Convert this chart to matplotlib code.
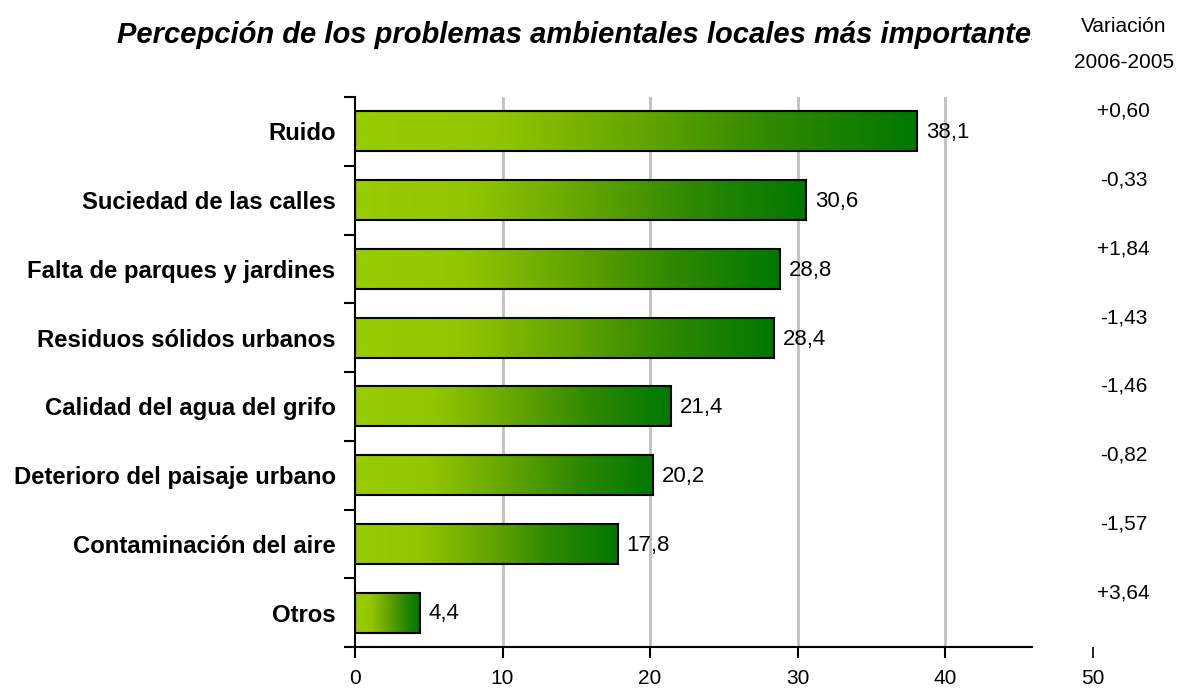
import numpy as np
import matplotlib
matplotlib.use('Agg')
import matplotlib.pyplot as plt
from matplotlib.colors import LinearSegmentedColormap
from matplotlib.transforms import Bbox

plt.rcParams['font.family'] = ['Liberation Sans', 'DejaVu Sans']

# data
categorias = ['Ruido', 'Suciedad de las calles', 'Falta de parques y jardines',
              'Residuos sólidos urbanos', 'Calidad del agua del grifo',
              'Deterioro del paisaje urbano', 'Contaminación del aire', 'Otros']
valores = [38.1, 30.6, 28.8, 28.4, 21.4, 20.2, 17.8, 4.4]
variacion = ['+0,60', '-0,33', '+1,84', '-1,43', '-1,46', '-0,82', '-1,57', '+3,64']
xticks = [0, 10, 20, 30, 40, 50]

W, H = 1178, 689
fig = plt.figure(figsize=(W / 100, H / 100), dpi=100)
ax = fig.add_axes([355 / W, 42 / H, 737.5 / W, 550 / H])

# gradient lime -> dark green, per bar
cmap = LinearSegmentedColormap.from_list('verde', ['#99cc00', '#92c600', '#66a600', '#2e8800', '#007800'])
grad = np.linspace(0, 1, 256).reshape(1, -1)

ypos = np.arange(len(categorias))
bh = 0.58
bars = ax.barh(ypos, valores, height=bh, facecolor='none', edgecolor='black',
               linewidth=1.5, zorder=3)
for b in bars:
    x0, y0 = b.get_x(), b.get_y()
    w, h = b.get_width(), b.get_height()
    im = ax.imshow(grad, cmap=cmap, aspect='auto', extent=[x0, x0 + w, y0 + h, y0],
                   zorder=2, interpolation='bilinear')
    im.set_clip_path(b)

for y, v in zip(ypos, valores):
    ax.text(v + 0.6, y + 0.02, ('%.1f' % v).replace('.', ','), va='center', ha='left',
            fontsize=16, zorder=4)

ax.set_xlim(0, 50)
ax.set_ylim(len(categorias) - 0.5, -0.5)

ax.set_xticks(xticks)
ax.set_xticklabels([str(t) for t in xticks], fontsize=15)
ax.tick_params(axis='x', direction='out', length=8, width=1.5, pad=8)
# the 50 tick is only a small detached mark in the original
ax.xaxis.get_major_ticks()[-1].tick1line.set_markeredgewidth(1.2)

ax.set_yticks(ypos)
ax.set_yticklabels(categorias, fontsize=17.2, fontweight='bold')
ax.set_yticks(np.arange(-0.5, len(categorias), 1), minor=True)
ax.tick_params(axis='y', which='major', length=0, pad=14)
ax.tick_params(axis='y', which='minor', direction='out', length=8, width=1.5)

for g in [10, 20, 30, 40]:
    ax.axvline(g, color='#c0c0c0', linewidth=2, zorder=1)

for s in ['top', 'right']:
    ax.spines[s].set_visible(False)
ax.spines['left'].set_linewidth(1.5)
ax.spines['bottom'].set_linewidth(1.5)
ax.spines['bottom'].set_bounds(0, 45.9)

# column of year-on-year variation
for y, t in zip(ypos, variacion):
    ax.text(52.1, y - 0.29, t, ha='center', va='center', fontsize=15, clip_on=False)
fig.text(1124 / W, 1 - 26 / H, 'Variación', ha='center', va='center', fontsize=15)
fig.text(1124 / W, 1 - 63 / H, '2006-2005', ha='center', va='center', fontsize=15)

titulo = fig.text(117 / W, 1 - 35 / H,
                  'Percepción de los problemas ambientales locales más importantes',
                  ha='left', va='center', fontsize=21, fontweight='bold', style='italic')
titulo.set_clip_box(Bbox([[0, 0], [1032, H]]))
titulo.set_clip_on(True)

fig.savefig('out.png', dpi=100)
